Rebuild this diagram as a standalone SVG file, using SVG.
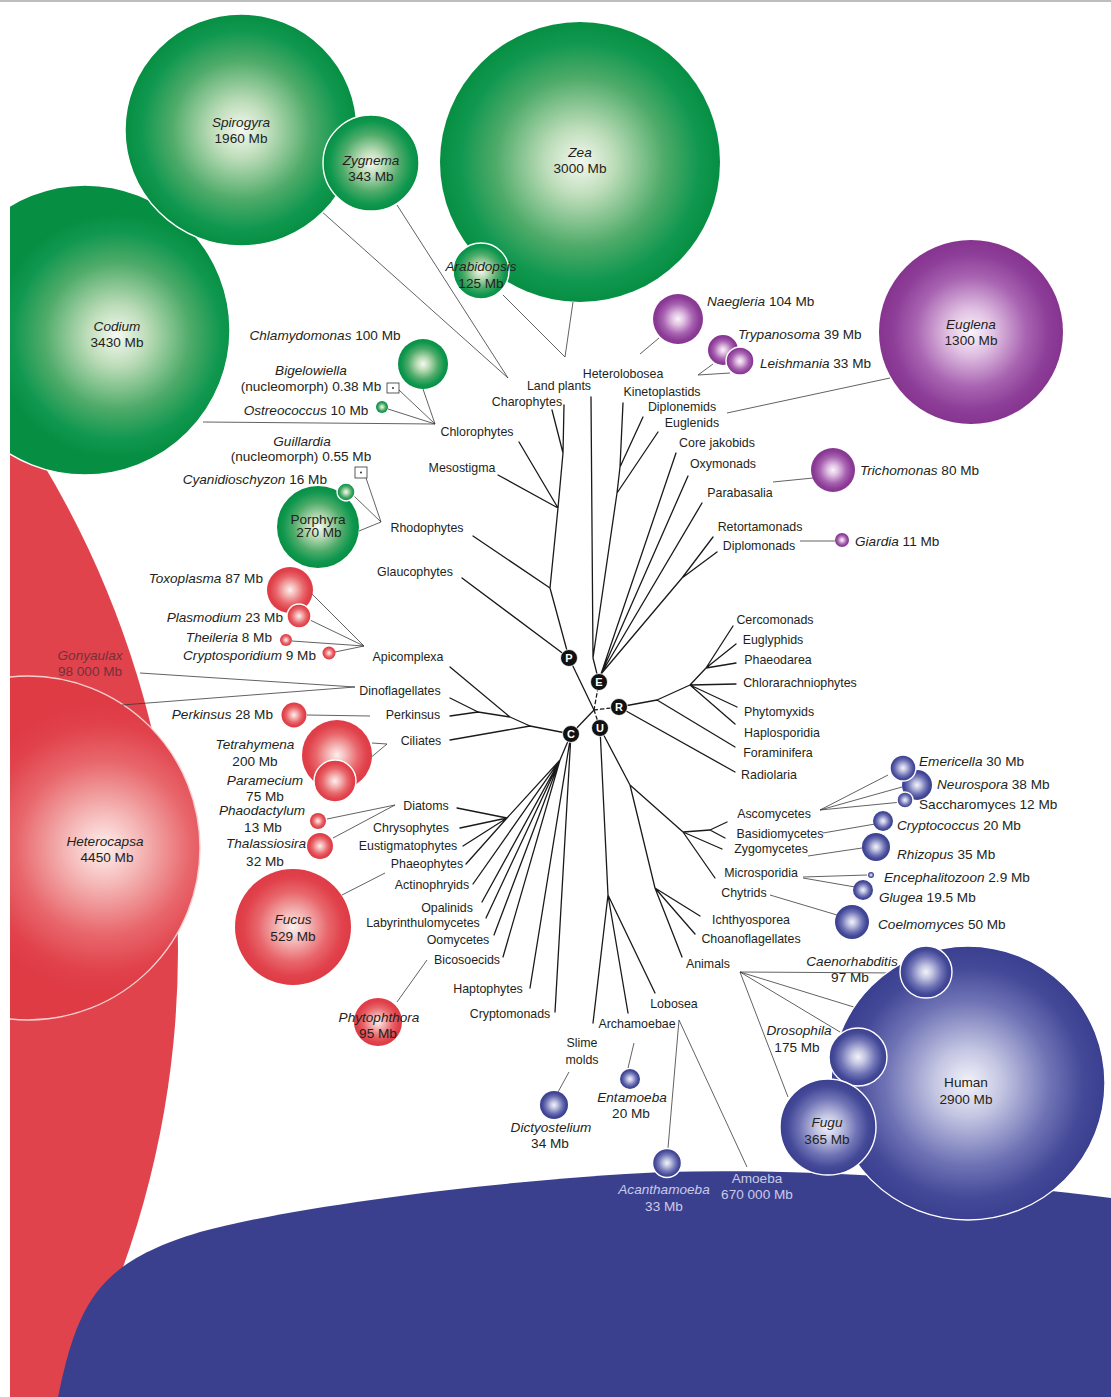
<svg xmlns="http://www.w3.org/2000/svg" xmlns:xlink="http://www.w3.org/1999/xlink" width="1111" height="1397" viewBox="0 0 1111 1397">
<style>
.t{font-family:"Liberation Sans",Arial,sans-serif;font-size:12.4px;fill:#231f20}
.o{font-size:13.6px}
.i{font-style:italic}
.m{text-anchor:middle}
.e{text-anchor:end}
.lt{fill:#c9cbe9}
.gy{fill:#74303a}
.br{stroke:#1a1a1a;stroke-width:1.3;fill:none;stroke-linecap:round;stroke-linejoin:round}
.ds{stroke-dasharray:3.5 3}
.cn{stroke:#3a3a3a;stroke-width:0.8;fill:none}
.ws{stroke:#fff;stroke-width:1.4}
.g{fill:url(#gG)}
.r{fill:url(#gR)}
.p{fill:url(#gP)}
.b{fill:url(#gB)}
.nd{fill:#111;stroke:#fff;stroke-width:0.8}
.nl{font-family:"Liberation Sans",Arial,sans-serif;font-size:11px;font-weight:bold;fill:#fff;text-anchor:middle}
.box{fill:#fff;stroke:#333;stroke-width:0.8}
</style>
<defs>
<radialGradient id="gG" cx="0.5" cy="0.5" r="0.5">
<stop offset="0" stop-color="#f4f9f1"/><stop offset="0.25" stop-color="#bcdcb8"/><stop offset="0.6" stop-color="#4fab69"/><stop offset="0.85" stop-color="#119850"/><stop offset="1" stop-color="#068f43"/>
</radialGradient>
<radialGradient id="gGcod" xlink:href="#gG" cx="0.61" cy="0.52" r="0.42" fx="0.61" fy="0.52"/>
<radialGradient id="gR" cx="0.5" cy="0.5" r="0.5">
<stop offset="0" stop-color="#fdf0ef"/><stop offset="0.25" stop-color="#f5b9b8"/><stop offset="0.6" stop-color="#e8676c"/><stop offset="0.85" stop-color="#e1424b"/><stop offset="1" stop-color="#de3b45"/>
</radialGradient>
<radialGradient id="gRhet" xlink:href="#gR" cx="0.72" cy="0.5" r="0.42" fx="0.72" fy="0.5"/>
<radialGradient id="gP" cx="0.5" cy="0.5" r="0.5">
<stop offset="0" stop-color="#fbf3fb"/><stop offset="0.25" stop-color="#e0c0e2"/><stop offset="0.6" stop-color="#a863b1"/><stop offset="0.85" stop-color="#8d3e98"/><stop offset="1" stop-color="#86348f"/>
</radialGradient>
<radialGradient id="gB" cx="0.5" cy="0.5" r="0.5">
<stop offset="0" stop-color="#f3f3fa"/><stop offset="0.25" stop-color="#c3c5e2"/><stop offset="0.6" stop-color="#6f73b5"/><stop offset="0.85" stop-color="#434897"/><stop offset="1" stop-color="#3a3f8f"/>
</radialGradient>
<clipPath id="clipL"><rect x="10" y="0" width="1101" height="1397"/></clipPath>
</defs>
<rect x="0" y="0" width="1111" height="1397" fill="#fff"/>
<line x1="0" y1="1" x2="1111" y2="1" stroke="#bdbdbd" stroke-width="2"/>

<g id="backgrounds" clip-path="url(#clipL)">
<g id="n-gonyaulax"><circle cx="-765" cy="950" r="943" fill="#e1434c"/></g>
<g id="n-amoeba"><path d="M58,1397 C78,1300 100,1262 200,1232 C300,1205 500,1180 663,1172 C800,1168 950,1178 1111,1198 L1111,1397 Z" fill="#3b408e"/></g>
<g id="n-codium"><circle cx="85" cy="330" r="145" fill="url(#gGcod)" class="ws"/></g>
<g id="n-heterocapsa"><circle cx="28" cy="848" r="172" fill="url(#gRhet)" stroke="#f6d0d0" stroke-width="1.4"/></g>
</g>

<g id="labels-bg">
<text class="t o i m gy" x="90" y="660">Gonyaulax</text>
<text class="t o m gy" x="90" y="676">98 000 Mb</text>
<text class="t o i m" x="117" y="331">Codium</text>
<text class="t o m" x="117" y="347">3430 Mb</text>
<text class="t o i m" x="105" y="846">Heterocapsa</text>
<text class="t o m" x="107" y="862">4450 Mb</text>
</g>

<g id="connectors">
<path class="cn" d="M320,210 L508,378 M397,205 L508,378"/>
<path class="cn" d="M503,295 L565,357 M573,302 L565,357"/>
<path class="cn" d="M203,422 L435,424 M423,389 L435,424 M399,390 L435,424 M388,409 L435,424"/>
<path class="cn" d="M366,478 L381,522 M354,496 L381,522 M359,531 L381,522"/>
<path class="cn" d="M312,594 L364,646 M310,620 L364,646 M292,641 L364,646 M335,652 L364,646"/>
<path class="cn" d="M355,687 L140,673 M355,687 L122,705"/>
<path class="cn" d="M307,715 L370,716"/>
<path class="cn" d="M372,743 L387,744 M357,769 L387,744"/>
<path class="cn" d="M327,819 L395,805 M333,838 L395,805"/>
<path class="cn" d="M342,895 L385,873"/>
<path class="cn" d="M397,1002 L427,960"/>
<path class="cn" d="M659,338 L640,354"/>
<path class="cn" d="M713,364 L698,375 M730,373 L698,375"/>
<path class="cn" d="M727,413 L890,378"/>
<path class="cn" d="M773,482 L813,478"/>
<path class="cn" d="M800,541 L835,541"/>
<path class="cn" d="M820,810 L888,775 M820,810 L902,787 M820,810 L902,802"/>
<path class="cn" d="M823,833 L875,824"/>
<path class="cn" d="M808,856 L862,848"/>
<path class="cn" d="M803,877 L867,875 M803,878 L855,887"/>
<path class="cn" d="M770,895 L837,915"/>
<path class="cn" d="M740,972 L900,973 M740,972 L857,1008 M740,972 L840,1032 M740,972 L788,1097"/>
<path class="cn" d="M569,1072 L558,1092"/>
<path class="cn" d="M634,1043 L628,1068"/>
<path class="cn" d="M679,1020 L668,1148 M679,1020 L747,1167"/>
<path class="br" d="M594,710 L569,658 L550,588 L473,536 M550,588 L558,508 L519,442 M558,508 L498,475 M558,508 L563,453 L552,410 M563,453 L564,405 M569,658 L462,578"/>
<path class="br" d="M599,682 L593,658 L591,397 M593,658 L617,493 L620,467 L623,403 M620,467 L643,417 M617,493 L658,432 M601,674 L676,453 M601,674 L688,476 M601,674 L702,503 M601,674 L682,578 L713,537 M682,578 L717,552"/>
<path class="br" d="M619,707 L657,700 L690,685 L706,668 L733,626 M706,668 L736,644 M706,668 L736,663 M690,685 L736,684 M690,685 L737,707 M690,685 L735,724 M657,700 L735,747 M619,707 L735,772"/>
<path class="br" d="M594,710 L571,734 L530,726 L450,740 M530,726 L510,717 L450,667 M510,717 L478,712 L450,698 M478,712 L450,716"/>
<path class="br" d="M571,734 L560,760 L507,818 L457,808 M507,818 L460,828 M507,818 L463,846 M507,818 L466,864 M560,760 L473,884 M560,760 L482,902 M560,760 L486,918 M560,760 L494,935 M560,760 L503,957 M571,734 L530,988 M571,734 L555,1012"/>
<path class="br" d="M600,728 L608,895 L593,1023 M608,895 L628,1013 M608,895 L655,993 M600,728 L630,785 L683,832 L710,830 L727,822 M710,830 L725,838 M683,832 L722,849 M683,832 L715,878 M630,785 L655,888 L700,916 M655,888 L695,934 M655,888 L682,957"/>
<path class="br ds" d="M594,710 L599,682 M594,710 L619,707 M594,710 L600,728"/>
</g>

<g id="tree-nodes">
<g id="n-P"><circle class="nd" cx="569" cy="658" r="8.5"/><text class="nl" x="569" y="662">P</text></g>
<g id="n-E"><circle class="nd" cx="599" cy="682" r="8.5"/><text class="nl" x="599" y="686">E</text></g>
<g id="n-R"><circle class="nd" cx="619" cy="707" r="8.5"/><text class="nl" x="619" y="711">R</text></g>
<g id="n-C"><circle class="nd" cx="571" cy="734" r="8.5"/><text class="nl" x="571" y="738">C</text></g>
<g id="n-U"><circle class="nd" cx="600" cy="728" r="8.5"/><text class="nl" x="600" y="732">U</text></g>
</g>

<g id="clade-labels">
<text class="t m" x="559" y="390">Land plants</text>
<text class="t m" x="527" y="406">Charophytes</text>
<text class="t m" x="477" y="436">Chlorophytes</text>
<text class="t m" x="462" y="472">Mesostigma</text>
<text class="t m" x="427" y="532">Rhodophytes</text>
<text class="t m" x="415" y="576">Glaucophytes</text>
<text class="t m" x="623" y="378">Heterolobosea</text>
<text class="t m" x="662" y="396">Kinetoplastids</text>
<text class="t m" x="682" y="411">Diplonemids</text>
<text class="t m" x="692" y="427">Euglenids</text>
<text class="t m" x="717" y="447">Core jakobids</text>
<text class="t m" x="723" y="468">Oxymonads</text>
<text class="t m" x="740" y="497">Parabasalia</text>
<text class="t m" x="760" y="531">Retortamonads</text>
<text class="t m" x="759" y="550">Diplomonads</text>
<text class="t m" x="775" y="624">Cercomonads</text>
<text class="t m" x="773" y="644">Euglyphids</text>
<text class="t m" x="778" y="664">Phaeodarea</text>
<text class="t m" x="800" y="687">Chlorarachniophytes</text>
<text class="t m" x="779" y="716">Phytomyxids</text>
<text class="t m" x="782" y="737">Haplosporidia</text>
<text class="t m" x="778" y="757">Foraminifera</text>
<text class="t m" x="769" y="779">Radiolaria</text>
<text class="t m" x="774" y="818">Ascomycetes</text>
<text class="t m" x="780" y="838">Basidiomycetes</text>
<text class="t m" x="771" y="853">Zygomycetes</text>
<text class="t m" x="761" y="877">Microsporidia</text>
<text class="t m" x="744" y="897">Chytrids</text>
<text class="t m" x="751" y="924">Ichthyosporea</text>
<text class="t m" x="751" y="943">Choanoflagellates</text>
<text class="t m" x="708" y="968">Animals</text>
<text class="t m" x="674" y="1008">Lobosea</text>
<text class="t m" x="637" y="1028">Archamoebae</text>
<text class="t m" x="582" y="1047">Slime</text>
<text class="t m" x="582" y="1064">molds</text>
<text class="t m" x="408" y="661">Apicomplexa</text>
<text class="t m" x="400" y="695">Dinoflagellates</text>
<text class="t m" x="413" y="719">Perkinsus</text>
<text class="t m" x="421" y="745">Ciliates</text>
<text class="t m" x="426" y="810">Diatoms</text>
<text class="t m" x="411" y="832">Chrysophytes</text>
<text class="t m" x="408" y="850">Eustigmatophytes</text>
<text class="t m" x="427" y="868">Phaeophytes</text>
<text class="t m" x="432" y="889">Actinophryids</text>
<text class="t m" x="447" y="912">Opalinids</text>
<text class="t m" x="423" y="927">Labyrinthulomycetes</text>
<text class="t m" x="458" y="944">Oomycetes</text>
<text class="t m" x="467" y="964">Bicosoecids</text>
<text class="t m" x="488" y="993">Haptophytes</text>
<text class="t m" x="510" y="1018">Cryptomonads</text>
</g>

<g id="green-organisms">
<g id="n-spirogyra"><circle class="g ws" cx="241" cy="130" r="116"/><text class="t o i m" x="241" y="127">Spirogyra</text><text class="t o m" x="241" y="143">1960 Mb</text></g>
<g id="n-zygnema"><circle class="g ws" cx="371" cy="163" r="48"/><text class="t o i m" x="371" y="165">Zygnema</text><text class="t o m" x="371" y="181">343 Mb</text></g>
<g id="n-zea"><circle class="g" cx="580" cy="162" r="140"/><text class="t o i m" x="580" y="157">Zea</text><text class="t o m" x="580" y="173">3000 Mb</text></g>
<g id="n-arabidopsis"><circle class="g ws" cx="481" cy="271" r="28"/><text class="t o i m" x="481" y="271">Arabidopsis</text><text class="t o m" x="481" y="288">125 Mb</text></g>
<g id="n-chlamydomonas"><circle class="g" cx="423" cy="364" r="25"/><text class="t o m" x="325" y="340"><tspan class="i">Chlamydomonas</tspan> 100 Mb</text></g>
<g id="n-bigelowiella"><rect class="box" x="387" y="383" width="12" height="10"/><circle cx="393" cy="388" r="1" fill="#333"/><text class="t o i m" x="311" y="375">Bigelowiella</text><text class="t o m" x="311" y="391">(nucleomorph) 0.38 Mb</text></g>
<g id="n-ostreococcus"><circle class="g" cx="382" cy="407" r="6"/><text class="t o m" x="306" y="415"><tspan class="i">Ostreococcus</tspan> 10 Mb</text></g>
<g id="n-guillardia"><rect class="box" x="355" y="467" width="12" height="11"/><circle cx="361" cy="472.5" r="1" fill="#333"/><text class="t o i m" x="302" y="446">Guillardia</text><text class="t o m" x="301" y="461">(nucleomorph) 0.55 Mb</text></g>
<g id="n-porphyra"><circle class="g" cx="318" cy="527" r="41"/><text class="t o m" x="318" y="524">Porphyra</text><text class="t o m" x="319" y="537">270 Mb</text></g>
<g id="n-cyanidioschyzon"><circle class="g ws" cx="346" cy="492" r="9"/><text class="t o e" x="327" y="484"><tspan class="i">Cyanidioschyzon</tspan> 16 Mb</text></g>
</g>

<g id="red-organisms">
<g id="n-toxoplasma"><circle class="r" cx="290" cy="590" r="23"/><text class="t o e" x="263" y="583"><tspan class="i">Toxoplasma</tspan> 87 Mb</text></g>
<g id="n-plasmodium"><circle class="r ws" cx="299" cy="616" r="12"/><text class="t o e" x="283" y="622"><tspan class="i">Plasmodium</tspan> 23 Mb</text></g>
<g id="n-theileria"><circle class="r" cx="286" cy="640" r="6"/><text class="t o e" x="272" y="642"><tspan class="i">Theileria</tspan> 8 Mb</text></g>
<g id="n-cryptosporidium"><circle class="r" cx="329" cy="653" r="6.5"/><text class="t o e" x="316" y="660"><tspan class="i">Cryptosporidium</tspan> 9 Mb</text></g>
<g id="n-perkinsus"><circle class="r" cx="294" cy="715" r="12.5"/><text class="t o e" x="273" y="719"><tspan class="i">Perkinsus</tspan> 28 Mb</text></g>
<g id="n-tetrahymena"><circle class="r" cx="337" cy="755" r="35"/><text class="t o i m" x="255" y="749">Tetrahymena</text><text class="t o m" x="255" y="766">200 Mb</text></g>
<g id="n-paramecium"><circle class="r ws" cx="335" cy="781" r="21"/><text class="t o i m" x="265" y="785">Paramecium</text><text class="t o m" x="265" y="801">75 Mb</text></g>
<g id="n-phaodactylum"><circle class="r" cx="318" cy="821" r="8"/><text class="t o i m" x="262" y="815">Phaodactylum</text><text class="t o m" x="263" y="832">13 Mb</text></g>
<g id="n-thalassiosira"><circle class="r" cx="320" cy="846" r="13"/><text class="t o i m" x="266" y="848">Thalassiosira</text><text class="t o m" x="265" y="866">32 Mb</text></g>
<g id="n-fucus"><circle class="r" cx="293" cy="927" r="58"/><text class="t o i m" x="293" y="924">Fucus</text><text class="t o m" x="293" y="941">529 Mb</text></g>
<g id="n-phytophthora"><circle class="r" cx="378" cy="1022" r="24"/><text class="t o i m" x="379" y="1022">Phytophthora</text><text class="t o m" x="378" y="1038">95 Mb</text></g>
</g>

<g id="purple-organisms">
<g id="n-naegleria"><circle class="p" cx="678" cy="319" r="25"/><text class="t o" x="707" y="306"><tspan class="i">Naegleria</tspan> 104 Mb</text></g>
<g id="n-trypanosoma"><circle class="p" cx="723" cy="350" r="15"/><text class="t o" x="738" y="339"><tspan class="i">Trypanosoma</tspan> 39 Mb</text></g>
<g id="n-leishmania"><circle class="p ws" cx="740" cy="361" r="14"/><text class="t o" x="760" y="368"><tspan class="i">Leishmania</tspan> 33 Mb</text></g>
<g id="n-euglena"><circle class="p" cx="971" cy="332" r="92"/><text class="t o i m" x="971" y="329">Euglena</text><text class="t o m" x="971" y="345">1300 Mb</text></g>
<g id="n-trichomonas"><circle class="p" cx="833" cy="470" r="22"/><text class="t o" x="860" y="475"><tspan class="i">Trichomonas</tspan> 80 Mb</text></g>
<g id="n-giardia"><circle class="p" cx="842" cy="540" r="7"/><text class="t o" x="855" y="546"><tspan class="i">Giardia</tspan> 11 Mb</text></g>
</g>

<g id="blue-organisms">
<g id="n-neurospora"><circle class="b" cx="917" cy="785" r="15"/><text class="t o" x="937" y="789"><tspan class="i">Neurospora</tspan> 38 Mb</text></g>
<g id="n-emericella"><circle class="b ws" cx="903" cy="768" r="13"/><text class="t o" x="919" y="766"><tspan class="i">Emericella</tspan> 30 Mb</text></g>
<g id="n-saccharomyces"><circle class="b ws" cx="905" cy="800" r="8"/><text class="t o" x="919" y="809">Saccharomyces 12 Mb</text></g>
<g id="n-cryptococcus"><circle class="b" cx="883" cy="821" r="10"/><text class="t o" x="897" y="830"><tspan class="i">Cryptococcus</tspan> 20 Mb</text></g>
<g id="n-rhizopus"><circle class="b" cx="876" cy="847" r="14"/><text class="t o" x="897" y="859"><tspan class="i">Rhizopus</tspan> 35 Mb</text></g>
<g id="n-encephalitozoon"><circle class="b" cx="871" cy="875" r="3"/><text class="t o" x="884" y="882"><tspan class="i">Encephalitozoon</tspan> 2.9 Mb</text></g>
<g id="n-glugea"><circle class="b" cx="863" cy="890" r="10"/><text class="t o" x="879" y="902"><tspan class="i">Glugea</tspan> 19.5 Mb</text></g>
<g id="n-coelmomyces"><circle class="b" cx="852" cy="922" r="17"/><text class="t o" x="878" y="929"><tspan class="i">Coelmomyces</tspan> 50 Mb</text></g>
<g id="n-human"><circle class="b ws" cx="968" cy="1083" r="137"/><text class="t o m" x="966" y="1087">Human</text><text class="t o m" x="966" y="1104">2900 Mb</text></g>
<g id="n-caenorhabditis"><circle class="b ws" cx="926" cy="972" r="26"/><text class="t o i m" x="852" y="966">Caenorhabditis</text><text class="t o m" x="850" y="982">97 Mb</text></g>
<g id="n-drosophila"><circle class="b ws" cx="858" cy="1057" r="29"/><text class="t o i m" x="799" y="1035">Drosophila</text><text class="t o m" x="797" y="1052">175 Mb</text></g>
<g id="n-fugu"><circle class="b ws" cx="828" cy="1127" r="48"/><text class="t o i m" x="827" y="1127">Fugu</text><text class="t o m" x="827" y="1144">365 Mb</text></g>
<g id="n-dictyostelium"><circle class="b" cx="554" cy="1105" r="14"/><text class="t o i m" x="551" y="1132">Dictyostelium</text><text class="t o m" x="550" y="1148">34 Mb</text></g>
<g id="n-entamoeba"><circle class="b" cx="630" cy="1079" r="10"/><text class="t o i m" x="632" y="1102">Entamoeba</text><text class="t o m" x="631" y="1118">20 Mb</text></g>
<g id="n-acanthamoeba"><circle class="b ws" cx="667" cy="1163" r="14.5"/><text class="t o i m lt" x="664" y="1194">Acanthamoeba</text><text class="t o m lt" x="664" y="1211">33 Mb</text></g>
<g id="n-amoeba-label"><text class="t o m lt" x="757" y="1183">Amoeba</text><text class="t o m lt" x="757" y="1199">670 000 Mb</text></g>
</g>
</svg>
